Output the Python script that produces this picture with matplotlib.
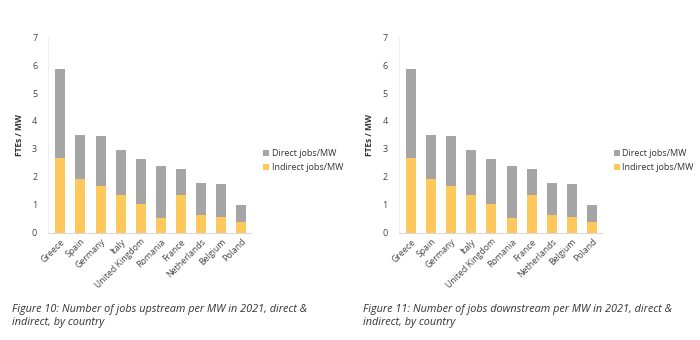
import numpy as np
import matplotlib
matplotlib.use("Agg")
import matplotlib.pyplot as plt

countries = ["Greece", "Spain", "Germany", "Italy", "United Kingdom", "Romania",
             "France", "Netherlands", "Belgium", "Poland"]
indirect = [2.67, 1.92, 1.68, 1.37, 1.02, 0.52, 1.35, 0.65, 0.58, 0.40]
total = [5.85, 3.50, 3.48, 2.98, 2.63, 2.38, 2.30, 1.80, 1.73, 1.00]
direct = [t - i for t, i in zip(total, indirect)]
captions = ["Figure 10: Number of jobs upstream per MW in 2021, direct &\nindirect, by country",
            "Figure 11: Number of jobs downstream per MW in 2021, direct &\nindirect, by country"]

yellow = "#ffc85c"
grey = "#a5a5a5"

plt.rcParams['font.family'] = ['Open Sans', 'DejaVu Sans']
fig = plt.figure(figsize=(7, 3.4), dpi=100)

lefts = [0.069, 0.570]
for k in range(2):
    ax = fig.add_axes([lefts[k], 0.315, 0.29, 0.576])
    x = np.arange(len(countries))
    ax.bar(x, indirect, 0.5, color=yellow, label="Indirect jobs/MW")
    ax.bar(x, direct, 0.5, bottom=indirect, color=grey, label="Direct jobs/MW")
    ax.set_ylim(0, 7)
    ax.set_xlim(-0.6, 9.5)
    ax.set_yticks(range(8))
    ax.set_xticks(x)
    ax.set_xticklabels(countries, rotation=45, ha="right", rotation_mode="anchor", fontsize=6.3, color="#444444")
    ax.tick_params(axis="y", labelsize=6.5, colors="#444444", length=0, pad=8)
    ax.tick_params(axis="x", length=0, pad=3)
    for s in ["top", "right"]:
        ax.spines[s].set_visible(False)
    ax.spines["bottom"].set_color("#d9d9d9")
    ax.spines["left"].set_color("#f0f0f0")
    ax.set_ylabel("FTEs / MW", fontsize=6, fontweight="bold", color="#333333", labelpad=6)
    h, l = ax.get_legend_handles_labels()
    ax.legend(h[::-1], l[::-1], loc="center left", bbox_to_anchor=(1.02, 0.37), frameon=False,
              fontsize=6.5, handlelength=0.6, handleheight=0.6, handletextpad=0.3, labelspacing=0.55,
              labelcolor="#333333")
    fig.text(lefts[k] - 0.052, 0.035, captions[k], fontsize=7.8, style="italic",
             color="#333333", va="bottom", linespacing=1.3)

fig.savefig("out.png", dpi=100, facecolor="white")
